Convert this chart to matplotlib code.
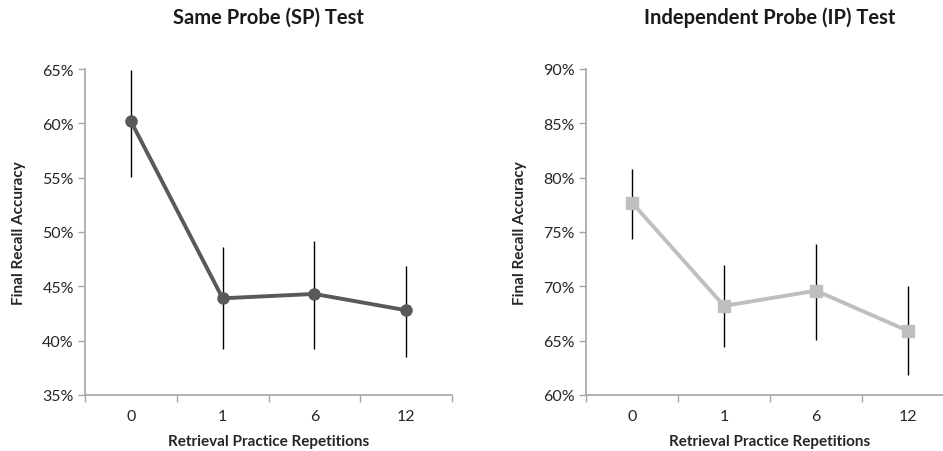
import matplotlib
matplotlib.use("Agg")
import numpy as np
import matplotlib.pyplot as plt
from matplotlib.ticker import FuncFormatter

plt.rcParams['font.family'] = ['Lato', 'DejaVu Sans']

reps = ['0', '1', '6', '12']

sp_mean = [60.2, 43.9, 44.3, 42.8]
sp_lo = [55.1, 39.2, 39.2, 38.5]
sp_hi = [64.9, 48.6, 49.2, 46.9]

ip_mean = [77.7, 68.2, 69.6, 65.9]
ip_lo = [74.4, 64.4, 65.1, 61.8]
ip_hi = [80.8, 72.0, 73.9, 70.0]

fig = plt.figure(figsize=(9.43, 4.52), dpi=100)
ax1 = fig.add_axes([85/943, 1-396/452, 367/943, 326/452])
ax2 = fig.add_axes([586/943, 1-396/452, 368/943, 326/452])


def style_panel(ax, mean, lo, hi, ylim, color, marker, title):
    x = np.arange(len(reps))
    mean = np.array(mean)
    yerr = [mean - np.array(lo), np.array(hi) - mean]
    ax.errorbar(x, mean, yerr=yerr, fmt='none', ecolor='black', elinewidth=1.0,
                capsize=0, zorder=2)
    ax.plot(x, mean, color=color, lw=2.8, marker=marker, markersize=8, zorder=3)
    ax.set_xlim(-0.5, len(reps) - 0.5)
    ax.set_ylim(*ylim)
    ax.set_yticks(np.arange(ylim[0], ylim[1] + 0.1, 5))
    ax.yaxis.set_major_formatter(FuncFormatter(lambda v, p: f'{v:.0f}%'))
    # category boundaries carry the ticks, centres carry the labels
    ax.set_xticks(np.arange(-0.5, len(reps)))
    ax.set_xticklabels([])
    ax.set_xticks(x, minor=True)
    ax.set_xticklabels(reps, minor=True)
    ax.tick_params(axis='x', which='minor', length=0, pad=10, labelsize=11.5, colors='#262626')
    ax.tick_params(axis='x', which='major', length=5, width=1, color='#a6a6a6', direction='out')
    ax.tick_params(axis='y', length=5, width=1, color='#a6a6a6', pad=3, labelsize=11.5,
                   labelcolor='#262626')
    for s in ['top', 'right']:
        ax.spines[s].set_visible(False)
    for s in ['left', 'bottom']:
        ax.spines[s].set_color('#a6a6a6')
        ax.spines[s].set_linewidth(1.2)
    ax.set_ylabel('Final Recall Accuracy', fontsize=11, fontweight='bold', labelpad=12,
                  color='#262626')
    ax.set_xlabel('Retrieval Practice Repetitions', fontsize=11, fontweight='bold',
                  labelpad=8, color='#262626')
    ax.set_title(title, fontsize=14.5, fontweight='bold', pad=33, color='#1a1a1a')


style_panel(ax1, sp_mean, sp_lo, sp_hi, (35, 65), '#595959', 'o', 'Same Probe (SP) Test')
style_panel(ax2, ip_mean, ip_lo, ip_hi, (60, 90), '#bfbfbf', 's', 'Independent Probe (IP) Test')

fig.savefig('out.png', dpi=100, facecolor='white')
